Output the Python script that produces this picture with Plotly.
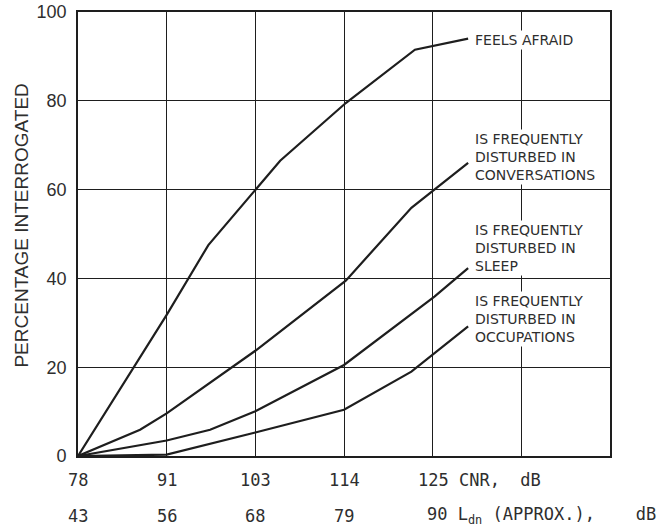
import plotly.graph_objects as go

# ---- data (x in equally spaced CNR-grid positions, y in %) ----
cnr_labels = ["78", "91", "103", "114", "125"]
ldn_labels = ["43", "56", "68", "79", "90"]

afraid_x = [0, 1.0, 1.47, 2.0, 2.28, 3.02, 3.80, 4.40]
afraid_y = [0, 31.8, 47.5, 59.8, 66.5, 79.5, 91.5, 94.0]

conv_x = [0, 0.70, 1.0, 2.0, 3.02, 3.76, 4.40]
conv_y = [0, 5.9, 9.6, 23.7, 39.5, 55.9, 66.0]

sleep_x = [0, 1.0, 1.49, 2.0, 3.0, 4.02, 4.40]
sleep_y = [0, 3.5, 5.9, 10.1, 20.5, 35.9, 42.3]

occ_x = [0, 1.0, 2.0, 3.0, 3.76, 4.40]
occ_y = [0, 0.3, 5.3, 10.4, 19.0, 29.2]

series_names = ["FEELS AFRAID",
                "IS FREQUENTLY<br>DISTURBED IN<br>CONVERSATIONS",
                "IS FREQUENTLY<br>DISTURBED IN<br>SLEEP",
                "IS FREQUENTLY<br>DISTURBED IN<br>OCCUPATIONS"]
label_y = [93.8, 67.4, 46.9, 30.9]

INK = "#1e1e1e"
TXT = "#2e2e2e"

fig = go.Figure()
for xs, ys in [(afraid_x, afraid_y), (conv_x, conv_y), (sleep_x, sleep_y), (occ_x, occ_y)]:
    fig.add_trace(go.Scatter(x=xs, y=ys, mode="lines",
                             line=dict(color=INK, width=2.2),
                             showlegend=False, hoverinfo="skip"))

annotations = []
for name, ly in zip(series_names, label_y):
    annotations.append(dict(x=4.455, y=ly, xref="x", yref="y", text=name,
                            showarrow=False, xanchor="left", yanchor="middle",
                            align="left", bgcolor="white", borderpad=1,
                            font=dict(family="DejaVu Sans", size=14, color=TXT)))

mono = dict(family="DejaVu Sans Mono", size=17, color=TXT)
NB = "\u00a0"
for i, (c, l) in enumerate(zip(cnr_labels, ldn_labels)):
    if i < len(cnr_labels) - 1:
        annotations.append(dict(x=i, y=-0.054, xref="x", yref="paper", text=c,
                                showarrow=False, xanchor="center", yanchor="middle", font=mono))
        annotations.append(dict(x=i, y=-0.135, xref="x", yref="paper", text=l,
                                showarrow=False, xanchor="center", yanchor="middle", font=mono))
    else:
        annotations.append(dict(x=i, y=-0.054, xref="x", yref="paper",
                                text=c + NB + "CNR," + NB + NB + "dB",
                                showarrow=False, xanchor="left", yanchor="middle",
                                xshift=-17, font=mono))
        annotations.append(dict(x=i, y=-0.135, xref="x", yref="paper",
                                text=l + NB + "L<sub>dn</sub>" + NB + "(APPROX.)," + NB * 4 + "dB",
                                showarrow=False, xanchor="left", yanchor="middle",
                                xshift=-8, font=mono))

annotations.append(dict(x=-0.108, y=0.518, xref="paper", yref="paper",
                        text="PERCENTAGE INTERROGATED", textangle=-90,
                        showarrow=False, xanchor="center", yanchor="middle",
                        font=dict(family="Liberation Sans", size=19, color=TXT)))

fig.update_layout(
    template="none",
    width=662, height=529,
    margin=dict(l=78, r=52, t=12, b=73, pad=0),
    paper_bgcolor="white", plot_bgcolor="white",
    annotations=annotations,
    xaxis=dict(range=[0, 6], dtick=1, tick0=0, showgrid=True, gridcolor=INK, gridwidth=1.3,
               showticklabels=False, ticks="", zeroline=False, automargin=False,
               showline=True, mirror=True, linecolor=INK, linewidth=1.8, fixedrange=True),
    yaxis=dict(range=[0, 100], dtick=20, tick0=0, showgrid=True, gridcolor=INK, gridwidth=1.3,
               ticks="", zeroline=False, ticklabelstandoff=6, automargin=False,
               tickfont=dict(family="Liberation Sans", size=18, color=TXT),
               showline=True, mirror=True, linecolor=INK, linewidth=1.8, fixedrange=True),
)

fig.write_html("out.html", config={"displayModeBar": False},
               post_script="document.body.style.margin='0';document.body.style.padding='0';")
